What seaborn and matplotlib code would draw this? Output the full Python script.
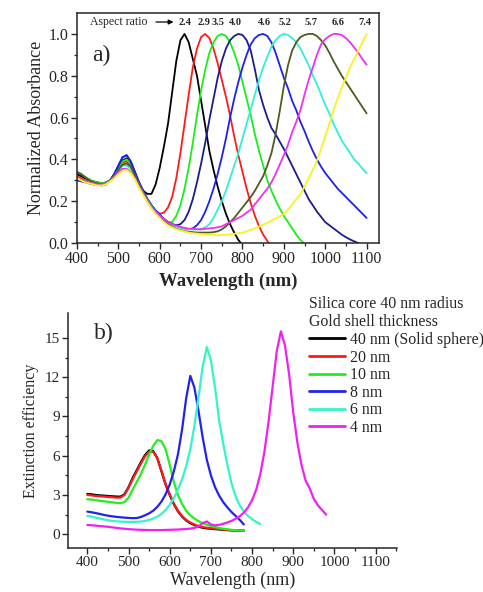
import numpy as np
import pandas as pd
import matplotlib
matplotlib.use("Agg")
import matplotlib.pyplot as plt
import seaborn as sns

nan = np.nan

# ---------------- Panel a) data ----------------
wavelength_a = list(range(400, 1101, 10))
aspect_ratios = ["2.4", "2.9", "3.5", "4.0", "4.6", "5.2", "5.7", "6.6", "7.4"]
colors_a = ["#000000", "#ff1a1a", "#1aee1a", "#1c1c8a", "#2020ee",
            "#2ff0d8", "#4f5a22", "#f030f0", "#f5f520"]

ar_2_4 = [0.33, 0.32, 0.31, 0.30, 0.295, 0.29, 0.285, 0.29, 0.30, 0.325, 0.36, 0.395, 0.405, 0.38, 0.33, 0.28, 0.25,
          0.235, 0.235, 0.28, 0.36, 0.46, 0.57, 0.72, 0.87, 0.97, 1.0, 0.96, 0.88, 0.80, 0.68, 0.56, 0.44, 0.35, 0.27,
          0.20, 0.14, 0.09, 0.05, 0.015, -0.01] + [nan] * 30
ar_2_9 = [0.32, 0.31, 0.30, 0.295, 0.29, 0.285, 0.28, 0.285, 0.30, 0.32, 0.355, 0.385, 0.39, 0.37, 0.33, 0.28, 0.245,
          0.21, 0.18, 0.155, 0.14, 0.145, 0.17, 0.22, 0.31, 0.43, 0.57,
          0.71, 0.84, 0.93, 0.985, 1.0, 0.98, 0.93, 0.86, 0.78, 0.70,
          0.61, 0.51, 0.42, 0.34, 0.26, 0.19, 0.13, 0.08, 0.04, 0.01, -0.02] + [nan] * 23
ar_3_5 = [0.34, 0.33, 0.315, 0.305, 0.295, 0.29, 0.285, 0.29, 0.30, 0.325, 0.36, 0.39, 0.40, 0.38, 0.335, 0.285, 0.245,
          0.21, 0.18, 0.155, 0.135, 0.115, 0.10, 0.10, 0.13, 0.18, 0.26,
          0.36, 0.48, 0.61, 0.73, 0.83, 0.91, 0.96, 0.99, 1.0, 0.99,
          0.96, 0.91, 0.85, 0.77, 0.69, 0.61, 0.52, 0.44, 0.37, 0.30,
          0.25, 0.205, 0.165, 0.13, 0.10, 0.07, 0.04, 0.015, -0.005] + [nan] * 15
ar_4_0 = [0.31, 0.30, 0.295, 0.29, 0.285, 0.28, 0.28, 0.285, 0.30, 0.33, 0.37, 0.41, 0.42, 0.39, 0.34, 0.29, 0.25,
          0.21, 0.18, 0.155, 0.135, 0.115, 0.10, 0.09, 0.085, 0.09, 0.11,
          0.15, 0.21, 0.29, 0.38, 0.48, 0.59, 0.69, 0.79, 0.87, 0.93,
          0.97, 0.99, 1.0, 0.995, 0.97, 0.92, 0.83, 0.73, 0.66, 0.60,
          0.55, 0.52, 0.485, 0.45, 0.41, 0.37, 0.33, 0.29, 0.25, 0.21,
          0.18, 0.15, 0.125, 0.10, 0.085, 0.07, 0.055, 0.04, 0.028, 0.017,
          0.008, 0.0, nan, nan]
ar_4_6 = [0.30, 0.295, 0.29, 0.285, 0.28, 0.28, 0.275, 0.28, 0.30, 0.33, 0.37, 0.41, 0.42, 0.39, 0.34, 0.29, 0.25,
          0.21, 0.18, 0.155, 0.135, 0.115, 0.10, 0.09, 0.082, 0.075, 0.07,
          0.066, 0.07, 0.085, 0.11, 0.15, 0.20, 0.26, 0.33, 0.41, 0.50,
          0.60, 0.69, 0.77, 0.84, 0.90, 0.95, 0.98, 0.995, 1.0, 0.99,
          0.96, 0.91, 0.85, 0.79, 0.74, 0.68, 0.635, 0.58, 0.535, 0.485,
          0.44, 0.40, 0.365, 0.335, 0.31, 0.285, 0.26, 0.24, 0.22, 0.20,
          0.18, 0.16, 0.14, 0.12]
ar_5_2 = [0.31, 0.30, 0.295, 0.29, 0.285, 0.28, 0.28, 0.285, 0.30, 0.32, 0.35, 0.37, 0.37, 0.355, 0.32, 0.28, 0.24,
          0.205, 0.175, 0.15, 0.13, 0.11, 0.095, 0.085, 0.078, 0.072, 0.068,
          0.066, 0.065, 0.065, 0.067, 0.075, 0.09, 0.12, 0.16, 0.20, 0.25,
          0.31, 0.37, 0.43, 0.50, 0.57, 0.64, 0.71, 0.78, 0.84, 0.89,
          0.94, 0.97, 0.99, 1.0, 0.995, 0.98, 0.96, 0.93, 0.89, 0.85,
          0.80, 0.76, 0.71, 0.66, 0.62, 0.57, 0.53, 0.49, 0.46, 0.43,
          0.40, 0.38, 0.355, 0.334]
ar_5_7 = [0.34, 0.33, 0.315, 0.30, 0.29, 0.285, 0.28, 0.285, 0.30, 0.32, 0.35, 0.375, 0.38, 0.365, 0.325, 0.28, 0.24,
          0.20, 0.17, 0.145, 0.125, 0.105, 0.09, 0.078, 0.068, 0.062, 0.057,
          0.054, 0.052, 0.05, 0.05, 0.05, 0.05, 0.052, 0.056, 0.065, 0.08,
          0.10, 0.12, 0.145, 0.17, 0.195, 0.22, 0.25, 0.285, 0.32, 0.37,
          0.43, 0.52, 0.63, 0.75, 0.85, 0.92, 0.96, 0.985, 0.995, 1.0,
          1.0, 0.99, 0.97, 0.945, 0.91, 0.87, 0.835, 0.80, 0.77, 0.74,
          0.71, 0.68, 0.65, 0.62]
ar_6_6 = [0.31, 0.30, 0.295, 0.29, 0.285, 0.28, 0.28, 0.285, 0.295, 0.315, 0.34, 0.355, 0.355, 0.34, 0.31, 0.27, 0.235,
          0.20, 0.17, 0.15, 0.13, 0.115, 0.10, 0.09, 0.083, 0.077, 0.072,
          0.069, 0.067, 0.066, 0.065, 0.068, 0.07, 0.072, 0.075, 0.08, 0.09,
          0.10, 0.11, 0.12, 0.13, 0.145, 0.16, 0.185, 0.21, 0.235, 0.26,
          0.29, 0.33, 0.375, 0.42, 0.47, 0.53, 0.58, 0.635, 0.71, 0.78,
          0.84, 0.90, 0.95, 0.975, 0.99, 1.0, 1.0, 0.995, 0.98, 0.96,
          0.935, 0.91, 0.88, 0.853]
ar_7_4 = [0.31, 0.30, 0.29, 0.285, 0.28, 0.275, 0.275, 0.28, 0.295, 0.31, 0.33, 0.345, 0.35, 0.335, 0.305, 0.265, 0.23,
          0.195, 0.165, 0.14, 0.12, 0.10, 0.085, 0.075, 0.066, 0.06, 0.055,
          0.05, 0.047, 0.045, 0.043, 0.041, 0.04, 0.039, 0.038, 0.038, 0.039,
          0.041, 0.044, 0.047, 0.05, 0.056, 0.063, 0.07, 0.078, 0.087, 0.097,
          0.107, 0.118, 0.126, 0.14, 0.16, 0.185, 0.21, 0.235, 0.27, 0.31,
          0.35, 0.395, 0.45, 0.51, 0.57, 0.635, 0.69, 0.745, 0.79, 0.84,
          0.88, 0.92, 0.96, 1.0]
curves_a = [ar_2_4, ar_2_9, ar_3_5, ar_4_0, ar_4_6, ar_5_2, ar_5_7, ar_6_6, ar_7_4]

# ---------------- Panel b) data ----------------
wavelength_b = list(range(400, 981, 10))
shells = ["40 nm (Solid sphere)", "20 nm", "10 nm", "8 nm", "6 nm", "4 nm"]
colors_b = ["#000000", "#ff1a1a", "#22ee22", "#2222ee", "#33f5c8", "#f020f0"]

sh_40 = [3.08, 3.05, 3.0, 2.97, 2.95, 2.92, 2.9, 2.88, 2.87, 3.05, 3.6, 4.3, 4.9, 5.5, 6.05, 6.4, 6.35, 5.8, 4.8,
         3.8, 3.0, 2.3, 1.75, 1.35, 1.05, 0.85, 0.7, 0.58, 0.5, 0.45, 0.42, 0.39, 0.37, 0.34, 0.32, 0.3, 0.29,
         0.28, 0.27] + [nan] * 20
sh_20 = [3.0, 2.97, 2.93, 2.9, 2.88, 2.85, 2.83, 2.8, 2.8, 3.0, 3.55, 4.2, 4.8, 5.4, 5.95, 6.3, 6.3, 5.8, 4.85,
         3.85, 3.05, 2.35, 1.8, 1.4, 1.1, 0.9, 0.75, 0.63, 0.55, 0.5, 0.46, 0.42, 0.39, 0.36, 0.33, 0.31, 0.3,
         0.29, 0.28] + [nan] * 20
sh_10 = [2.68, 2.65, 2.6, 2.56, 2.52, 2.48, 2.44, 2.4, 2.37, 2.45, 2.8, 3.4, 4.0, 4.6, 5.3, 6.1, 6.75, 7.2, 7.1,
         6.5, 5.3, 4.0, 3.0, 2.3, 1.8, 1.45, 1.2, 1.0, 0.85, 0.73, 0.63, 0.55, 0.48, 0.42, 0.38, 0.34, 0.31,
         0.29, 0.27] + [nan] * 20
sh_8 = [1.73, 1.68, 1.62, 1.55, 1.48, 1.42, 1.37, 1.33, 1.3, 1.27, 1.25, 1.23, 1.24, 1.32, 1.45, 1.6, 1.8, 2.1,
        2.5, 3.05, 3.8, 4.8, 6.1, 8.0, 10.4, 12.1, 11.2, 9.4, 7.4, 5.7, 4.5, 3.6, 2.95, 2.45, 2.05, 1.7, 1.4,
        1.1, 0.75] + [nan] * 20
sh_6 = [1.4, 1.35, 1.28, 1.2, 1.13, 1.07, 1.02, 0.99, 0.97, 0.95, 0.94, 0.94, 0.95, 0.97, 1.02, 1.1, 1.2, 1.35,
        1.55, 1.85, 2.25, 2.75, 3.4, 4.2, 5.2, 6.5, 8.3, 10.5, 12.8, 14.3, 13.3, 11.2, 8.7, 6.9, 5.3, 3.9, 2.9,
        2.2, 1.75, 1.4, 1.15, 0.95, 0.78] + [nan] * 16
sh_4 = [0.71, 0.69, 0.66, 0.63, 0.6, 0.57, 0.53, 0.49, 0.45, 0.42, 0.39, 0.37, 0.35, 0.34, 0.33, 0.32, 0.32,
        0.32, 0.32, 0.33, 0.34, 0.35, 0.36, 0.38, 0.4, 0.43, 0.48, 0.6, 0.85, 0.98, 0.75, 0.68, 0.72, 0.8, 0.9,
        1.02, 1.18, 1.38, 1.65, 2.05, 2.6, 3.4, 4.6, 6.3, 8.6, 11.3, 14.0, 15.5, 14.4, 12.2, 9.3, 7.0, 5.3, 4.1,
        3.5, 2.7, 2.2, 1.85, 1.5]
curves_b = [sh_40, sh_20, sh_10, sh_8, sh_6, sh_4]

# ---------------- Long-form tables ----------------
df_a = pd.concat([pd.DataFrame({"Wavelength": wavelength_a, "Absorbance": vals, "ratio": r})
                  for r, vals in zip(aspect_ratios, curves_a)]).dropna()
df_b = pd.concat([pd.DataFrame({"Wavelength": wavelength_b, "Extinction": vals, "shell": s})
                  for s, vals in zip(shells, curves_b)]).dropna()

# ---------------- Style ----------------
sns.set_style("ticks")
plt.rcParams["font.family"] = ["Liberation Serif", "DejaVu Serif"]
plt.rcParams["axes.linewidth"] = 1.1
plt.rcParams["xtick.major.width"] = 1.0
plt.rcParams["ytick.major.width"] = 1.0
plt.rcParams["xtick.minor.width"] = 0.9
plt.rcParams["ytick.minor.width"] = 0.9
plt.rcParams["xtick.direction"] = "out"
plt.rcParams["ytick.direction"] = "out"

fig = plt.figure(figsize=(4.83, 5.92), dpi=100)
fig.patch.set_facecolor("white")

# ---------------- Panel a ----------------
ax1 = fig.add_axes([0.1594, 0.5895, 0.6253, 0.3885])
sns.lineplot(data=df_a, x="Wavelength", y="Absorbance", hue="ratio",
             palette=dict(zip(aspect_ratios, colors_a)), hue_order=aspect_ratios,
             sort=False, estimator=None, linewidth=1.3, legend=False, ax=ax1)
ax1.set_xlim(400, 1130)
ax1.set_ylim(0, 1.1)
ax1.set_xticks(range(400, 1101, 100))
ax1.set_xticks(range(450, 1101, 100), minor=True)
ax1.set_yticks(np.arange(0, 1.01, 0.2))
ax1.set_yticks(np.arange(0.1, 1.01, 0.2), minor=True)
ax1.set_yticklabels([f"{v:.1f}" for v in np.arange(0, 1.01, 0.2)])
ax1.tick_params(axis="both", which="major", length=4, labelsize=11.5, pad=2)
ax1.tick_params(axis="both", which="minor", length=2.5)
ax1.set_xlabel("Wavelength (nm)", fontsize=13.5, fontweight="bold", labelpad=4)
ax1.set_ylabel("Normalized Absorbance", fontsize=13, labelpad=3)
for sp in ax1.spines.values():
    sp.set_visible(True)
ax1.text(0.05, 0.815, "a)", transform=ax1.transAxes, fontsize=17, va="center", ha="left")

# aspect ratio header
label_x = [661, 707, 740, 782, 852, 903, 966, 1031, 1096]
ax1.text(431, 1.057, "Aspect ratio", fontsize=8.5, ha="left", va="center")
ax1.annotate("", xy=(640, 1.057), xytext=(584, 1.057),
             arrowprops=dict(arrowstyle="-|>", color="black", lw=0.9, mutation_scale=7))
for lx, lab in zip(label_x, aspect_ratios):
    ax1.text(lx, 1.057, lab, fontsize=7.5, fontweight="bold", ha="center", va="center")

# ---------------- Panel b ----------------
ax2 = fig.add_axes([0.1408, 0.0743, 0.6812, 0.3970])
sns.lineplot(data=df_b, x="Wavelength", y="Extinction", hue="shell",
             palette=dict(zip(shells, colors_b)), hue_order=shells,
             sort=False, estimator=None, linewidth=1.6, ax=ax2)
ax2.set_xlim(353, 1152)
ax2.set_ylim(-1.05, 16.9)
ax2.set_xticks(range(400, 1101, 100))
ax2.set_xticks(range(450, 1151, 100), minor=True)
ax2.set_yticks(range(0, 16, 3))
ax2.set_yticks(np.arange(1.5, 16.5, 3), minor=True)
ax2.tick_params(axis="both", which="major", length=4, labelsize=11, pad=2)
ax2.tick_params(axis="both", which="minor", length=2.5)
ax2.set_xlabel("Wavelength (nm)", fontsize=13, labelpad=2)
ax2.set_ylabel("Extinction efficiency", fontsize=11.5, labelpad=4)
sns.despine(ax=ax2)
ax2.text(0.08, 0.915, "b)", transform=ax2.transAxes, fontsize=17, va="center", ha="left")

leg = ax2.legend(title="Silica core 40 nm radius\nGold shell thickness",
                 loc="upper left", bbox_to_anchor=(309 / 483, 1 - 296 / 592),
                 bbox_transform=fig.transFigure, frameon=False, fontsize=11.4,
                 title_fontsize=11.4, alignment="left", handlelength=2.3,
                 handletextpad=0.3, labelspacing=0.1, borderpad=0, borderaxespad=0)
for line in leg.get_lines():
    line.set_linewidth(2.0)

fig.savefig("out.png", dpi=100, facecolor="white")
